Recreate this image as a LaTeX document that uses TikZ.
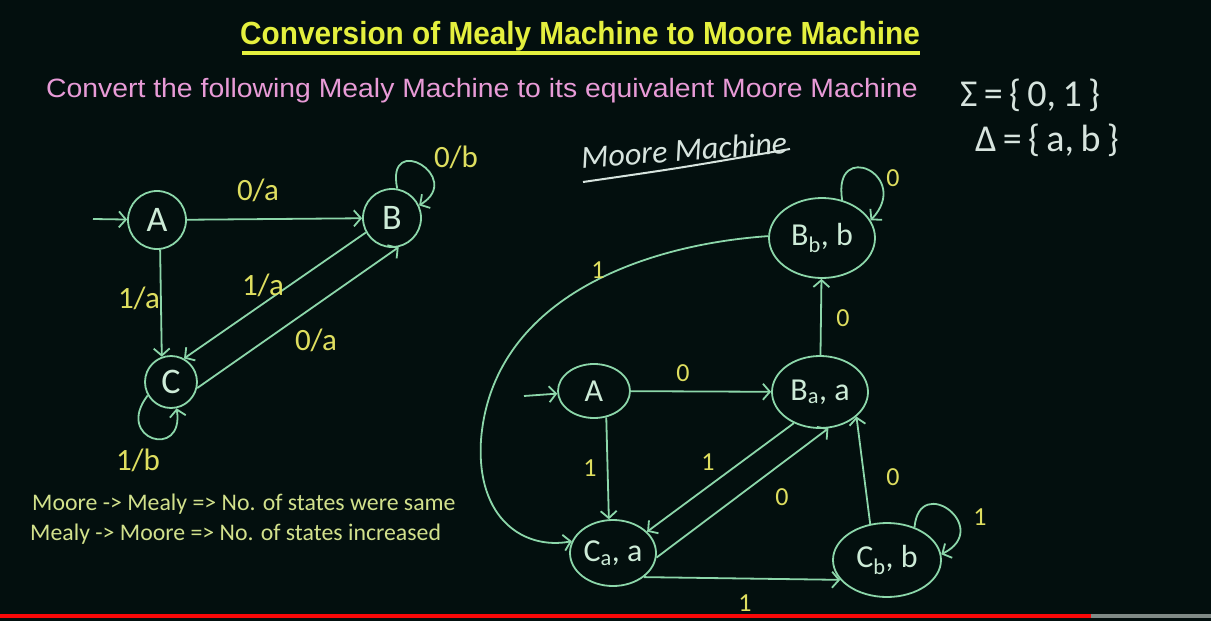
\documentclass[tikz,border=0pt]{standalone}
\usepackage{fontspec}
\setmainfont{Liberation Sans}
\newfontfamily\titlefont[FakeStretch=0.93]{Liberation Sans}
\newfontfamily\subfont[FakeStretch=1.07]{Liberation Sans}
\newfontfamily\handfont{Carlito}
\usetikzlibrary{shapes.geometric, arrows.meta, positioning}

\definecolor{board}{RGB}{3,15,14}
\definecolor{chalk}{RGB}{140,215,170}
\definecolor{chalktext}{RGB}{205,235,215}
\definecolor{chalkwhite}{RGB}{215,228,222}
\definecolor{titleyellow}{RGB}{228,240,62}
\definecolor{subpink}{RGB}{232,155,215}
\definecolor{lblyellow}{RGB}{222,222,95}
\definecolor{notegreen}{RGB}{210,225,140}
\definecolor{barred}{RGB}{250,8,8}
\definecolor{bargrey}{RGB}{128,138,134}

\begin{document}
\begin{tikzpicture}[
    x=1pt, y=-1pt,
    state/.style={circle, draw=chalk, line width=1.8pt, minimum size=58pt, inner sep=0pt, text=chalktext, font=\handfont\fontsize{36}{36}\selectfont},
    moore/.style={ellipse, draw=chalk, line width=1.8pt, inner sep=0pt, text=chalktext, font=\handfont\fontsize{32}{32}\selectfont},
    edgelbl/.style={text=lblyellow, font=\handfont\fontsize{26}{26}\selectfont},
    mealylbl/.style={edgelbl, font=\handfont\fontsize{31}{31}\selectfont},
    hand/.style={text=chalkwhite, inner sep=0pt, font=\handfont\fontsize{38}{38}\selectfont},
    note/.style={anchor=base west, inner sep=0pt, text=notegreen, font=\handfont\fontsize{23.8}{24}\selectfont},
    arrow/.style={draw=chalk, line width=1.8pt, -{Straight Barb[length=7pt,width=16pt]}}
]

% Board
\fill[board] (0,0) rectangle (1211,621);
\useasboundingbox (0,0) rectangle (1211,621);
\fill[barred] (0,614) rectangle (1091,618);
\fill[bargrey] (1091,614) rectangle (1211,618);

% Heading
\node[anchor=base, inner sep=0pt, text=titleyellow, font=\titlefont\bfseries\fontsize{32}{32}\selectfont] (title) at (580,44) {Conversion of Mealy Machine to Moore Machine};
\draw[titleyellow, line width=3.5pt] (242,53) -- (920,53);
\node[anchor=base, inner sep=0pt, text=subpink, font=\subfont\fontsize{26.5}{27}\selectfont] (subtitle) at (482,97) {Convert the following Mealy Machine to its equivalent Moore Machine};

% Alphabets
\node[hand, anchor=base west] (sigma) at (960,106) {Σ\,=\,\{\,0,\,1\,\}};
\node[hand, anchor=base west] (delta) at (975,151) {Δ\,=\,\{\,a,\,b\,\}};

% Mealy machine
\node[state] (mA) at (157,220) {A};
\node[state] (mB) at (392,218) {B};
\node[state, minimum size=52pt] (mC) at (171,382) {C};
\coordinate (mS) at (93,219);

\draw[arrow] (mS) -- (mA);
\draw[arrow] (mA) -- (mB);
\draw[arrow] (mA.-84) -- (mC.110);
\draw[arrow] (mB.-151) -- (mC.61);
\draw[arrow] (mC.-13) -- (mB.-77);
\draw[arrow] (mB.80) .. controls +(-12,-58) and +(46,-28) .. (mB.25);
\draw[arrow] (mC.210) .. controls +(-34,44) and +(8,52) .. (mC.-78);

\node[mealylbl] (l1) at (258,190) {0/a};
\node[mealylbl] (l2) at (139,298) {1/a};
\node[mealylbl] (l3) at (263,285) {1/a};
\node[mealylbl] (l4) at (316,340) {0/a};
\node[mealylbl] (l5) at (456,157) {0/b};
\node[mealylbl] (l6) at (138,460) {1/b};

% Moore machine
\node[hand, font=\handfont\itshape\fontsize{32}{32}\selectfont, rotate=4] (mtitle) at (684,150) {Moore Machine};
\draw[chalkwhite, line width=2pt] (583,182) .. controls (680,168) .. (790,149);

\node[moore, minimum width=72pt, minimum height=54pt] (qA) at (594,391) {A};
\node[moore, minimum width=96pt, minimum height=72pt] (qBa) at (820,392) {B\textsubscript{a}, a};
\node[moore, minimum width=106pt, minimum height=80pt] (qBb) at (822,238) {B\textsubscript{b}, b};
\node[moore, minimum width=86pt, minimum height=66pt] (qCa) at (613,553) {C\textsubscript{a}, a};
\node[moore, minimum width=108pt, minimum height=74pt] (qCb) at (887,560) {C\textsubscript{b}, b};
\coordinate (qS) at (524,396);

\draw[arrow] (qS) -- (qA);
\draw[arrow] (qA) -- (qBa);
\draw[arrow] (qA.-65) -- (qCa.97);
\draw[arrow] (qBa.-130) -- (qCa.32);
\draw[arrow] (qCa.-6) -- (qBa.-77);
\draw[arrow] (qBa) -- (qBb);
\draw[arrow] (qCb.115) -- (qBa.-34);
\draw[arrow] (qCa.-38) -- (qCb.203);
\draw[arrow] (qBb.178) .. controls (640,245) and (492,300) .. (481,440) .. controls (476,520) and (525,550) .. (qCa.164);
\draw[arrow] (qBb.62) .. controls +(-10,-62) and +(42,-45) .. (qBb.20);
\draw[arrow] (qCb.50) .. controls +(5,-55) and +(52,-26) .. (qCb.6);

\node[edgelbl] (k1) at (683,373) {0};
\node[edgelbl] (k2) at (590,468) {1};
\node[edgelbl] (k3) at (708,462) {1};
\node[edgelbl] (k4) at (782,497) {0};
\node[edgelbl] (k5) at (843,318) {0};
\node[edgelbl] (k6) at (893,477) {0};
\node[edgelbl] (k7) at (745,603) {1};
\node[edgelbl] (k8) at (598,270) {1};
\node[edgelbl] (k9) at (893,178) {0};
\node[edgelbl] (k10) at (980,517) {1};

% Notes
\node[note] (n1) at (32,510) {Moore -> Mealy => No. of states were same};
\node[note] (n2) at (30,540) {Mealy -> Moore => No. of states increased};

\end{tikzpicture}
\end{document}
